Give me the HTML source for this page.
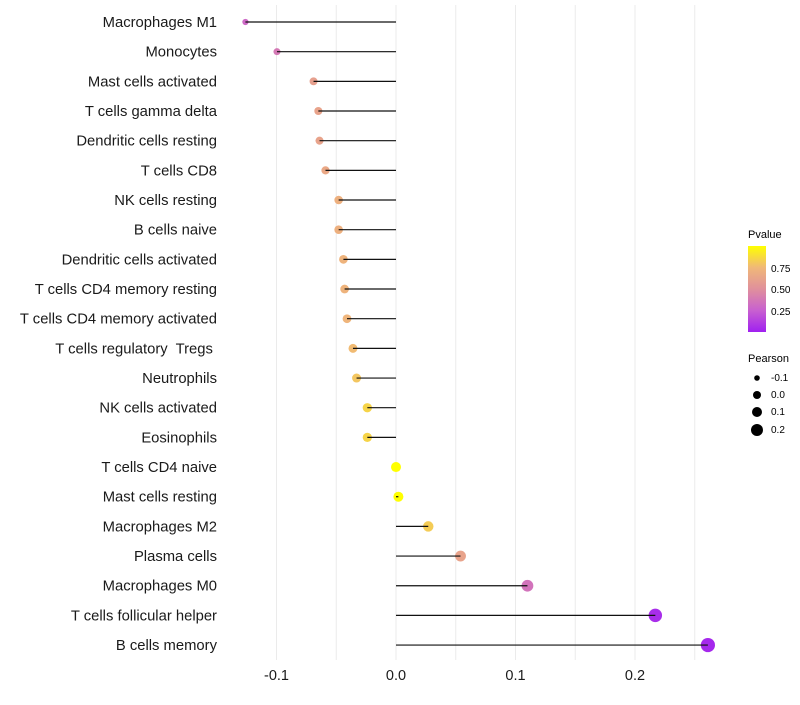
<!DOCTYPE html>
<html><head><meta charset="utf-8"><style>
body{margin:0;background:#fff;font-family:"Liberation Sans",sans-serif}
text{white-space:pre}
</style></head><body>
<svg id="chart" width="800" height="700" xmlns="http://www.w3.org/2000/svg">
<defs><linearGradient id="pg" x1="0" y1="1" x2="0" y2="0">
<stop offset="0" stop-color="#a020f0"/><stop offset="0.25" stop-color="#c860d0"/><stop offset="0.5" stop-color="#e0909c"/><stop offset="0.75" stop-color="#f0b878"/><stop offset="1" stop-color="#ffff00"/></linearGradient></defs>
<g id="grid"></g><g id="pts"></g><g id="marks"></g><g id="labels"></g>
<g font-size="10" fill="#000">
<text x="748" y="238" font-size="11">Pvalue</text>
<rect x="748" y="246" width="18" height="86" fill="url(#pg)"/>
<text x="771" y="272">0.75</text><text x="771" y="293">0.50</text><text x="771" y="315">0.25</text>
</g>
<g font-size="10">
<text x="748" y="362" font-size="11">Pearson</text>
<circle cx="757" cy="378" r="2.8"/><text x="771" y="381">-0.1</text>
<circle cx="757" cy="395" r="4"/><text x="771" y="398">0.0</text>
<circle cx="757" cy="412" r="5"/><text x="771" y="415">0.1</text>
<circle cx="757" cy="430" r="6"/><text x="771" y="433">0.2</text>
</g>
</svg>
<script>
const cells=["Macrophages M1","Monocytes","Mast cells activated","T cells gamma delta","Dendritic cells resting","T cells CD8","NK cells resting","B cells naive","Dendritic cells activated","T cells CD4 memory resting","T cells CD4 memory activated","T cells regulatory  Tregs ","Neutrophils","NK cells activated","Eosinophils","T cells CD4 naive","Mast cells resting","Macrophages M2","Plasma cells","Macrophages M0","T cells follicular helper","B cells memory"];
const pearson=[-0.126,-0.0996,-0.069,-0.065,-0.064,-0.059,-0.048,-0.048,-0.044,-0.043,-0.041,-0.036,-0.033,-0.024,-0.024,0.0,0.002,0.027,0.054,0.110,0.217,0.261];
const pvalues=[0.3,0.38,0.6,0.62,0.62,0.65,0.7,0.7,0.72,0.72,0.73,0.76,0.8,0.85,0.85,1.0,1.0,0.82,0.62,0.35,0.05,0.03];
const xticks=[-0.1,0.0,0.1,0.2];
const xtickLabels=["-0.1","0.0","0.1","0.2"];
const NS="http://www.w3.org/2000/svg";
const xs=v=>396+v*1195;
const ys=i=>22+i*29.67;
const rs=v=>v<0?Math.max(1.8,5+15*v):5+8*v;
function col(p){const st=[[0,[160,32,240]],[0.25,[200,96,208]],[0.5,[224,144,156]],[0.75,[240,184,120]],[1,[255,255,0]]];
for(let k=1;k<st.length;k++){if(p<=st[k][0]){const t=(p-st[k-1][0])/(st[k][0]-st[k-1][0]);const a=st[k-1][1],b=st[k][1];return `rgb(${a.map((c,j)=>Math.round(c+(b[j]-c)*t)).join(",")})`;}}return "rgb(255,255,0)";}
function mk(t,a,p){const e=document.createElementNS(NS,t);for(const k in a)e.setAttribute(k,a[k]);p.appendChild(e);return e;}
const g=document.getElementById("grid"),m=document.getElementById("marks"),pp=document.getElementById("pts"),l=document.getElementById("labels");
for(let v=-0.1;v<=0.26;v+=0.05){const gl=mk("line",{x1:xs(v),x2:xs(v),y1:5,y2:660,stroke:"#ebebeb","stroke-width":1},g);

}
xticks.forEach((v,i)=>{const t=mk("text",{x:xs(v),y:680,"text-anchor":"middle","font-size":14.5,fill:"#1a1a1a"},l);t.textContent=xtickLabels[i];

});
cells.forEach((c,i)=>{const y=ys(i);
const ci=mk("circle",{cx:xs(pearson[i]),cy:y,r:rs(pearson[i]),fill:col(pvalues[i])},pp);


const ln=mk("line",{x1:xs(0),x2:xs(pearson[i]),y1:y,y2:y,stroke:"#111","stroke-width":1.2},m);


const t=mk("text",{x:217,y:y+5,"text-anchor":"end","font-size":14.8,fill:"#1a1a1a"},l);t.textContent=c;

});
</script>
</body></html>
